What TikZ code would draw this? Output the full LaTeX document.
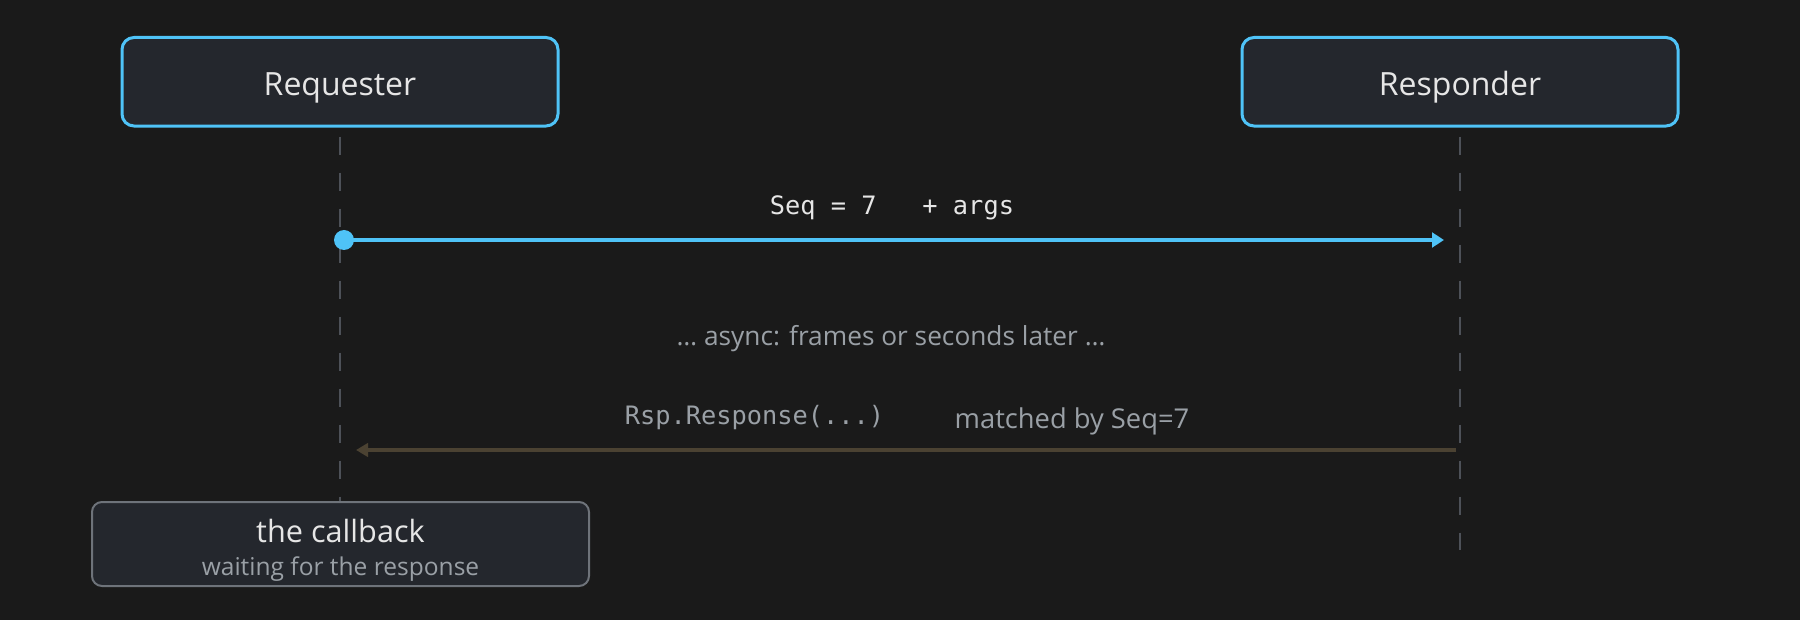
\documentclass[tikz,border=0pt]{standalone}
\usepackage{fontspec}
\setmainfont{Open Sans}
\setmonofont{DejaVu Sans Mono}
\usetikzlibrary{arrows.meta}
\definecolor{bg}{HTML}{1A1A1A}
\definecolor{boxfill}{HTML}{24272D}
\definecolor{cyanc}{HTML}{4FC3F7}
\definecolor{lifec}{HTML}{4D5158}
\definecolor{txtw}{HTML}{E6E6E6}
\definecolor{txtg}{HTML}{9AA0A6}
\definecolor{cbborder}{HTML}{6E737A}
\definecolor{brownc}{HTML}{4B4232}
\begin{document}
\begin{tikzpicture}[x=0.75pt,y=-0.75pt,
  actor/.style={draw=cyanc, line width=2.25pt, fill=boxfill, rounded corners=9pt,
    minimum width=327pt, minimum height=66.4pt, inner sep=0pt, text=txtw,
    font=\fontsize{24}{28}\selectfont, text height=21pt, text depth=0pt},
  cbbox/.style={draw=cbborder, line width=1.5pt, fill=boxfill, rounded corners=7.5pt,
    minimum width=372.75pt, minimum height=63pt, inner sep=0pt},
  lifeline/.style={draw=lifec, line width=1.6pt, dash pattern=on 13.5pt off 13.5pt},
  reqmsg/.style={draw=cyanc, line width=3pt, -{Triangle[length=9pt,width=11pt]}},
  rspmsg/.style={draw=brownc, line width=3pt, -{Triangle[length=9pt,width=10pt]}},
  dotstyle/.style={circle, fill=cyanc, minimum size=15pt, inner sep=0pt},
  monolab/.style={anchor=base, inner sep=0pt, font=\ttfamily\fontsize{19}{22}\selectfont},
  sanslab/.style={anchor=base, inner sep=0pt, text=txtg, font=\fontsize{20.5}{24}\selectfont}
]
\useasboundingbox (0,0) rectangle (1800,620);
\fill[bg] (0,0) rectangle (1800,620);

% actors
\node[actor] (req) at (340,81.75) {Requester};
\node[actor] (rsp) at (1460,81.75) {Responder};

% lifelines
\coordinate (reqend) at (340,550);
\coordinate (rspend) at (1460,550);
\draw[lifeline] (req.south) ++(0,9) -- (reqend);
\draw[lifeline] (rsp.south) ++(0,9) -- (rspend);

% request message
\node[dotstyle] (dot) at (344,240) {};
\coordinate (reqtip) at (1444,240);
\draw[reqmsg] (dot.center) -- (reqtip);
\node[monolab, text=txtw] (seqlab) at (892,215) {Seq = 7\ \ \ + args};

% async note
\node[sanslab, font=\fontsize{19.7}{23}\selectfont] (async) at (891,346) {… async: frames or seconds later …};

% response message
\coordinate (rspstart) at (1456,450);
\coordinate (rsptip) at (356,450);
\draw[rspmsg] (rspstart) -- (rsptip);
\node[monolab, text=txtg] (rsplab) at (754.5,425) {Rsp.Response(...)};
\node[sanslab] (matchlab) at (1072,428) {matched by Seq=7};

% callback box
\node[cbbox] (cb) at (340.5,544) {};
\node[anchor=base, inner sep=0pt, text=txtw, font=\fontsize{23}{27}\selectfont] (cbt) at (340.5,542) {the callback};
\node[anchor=base, inner sep=0pt, text=txtg, font=\fontsize{18.4}{22}\selectfont] (cbs) at (340.5,575) {waiting for the response};
\end{tikzpicture}
\end{document}
